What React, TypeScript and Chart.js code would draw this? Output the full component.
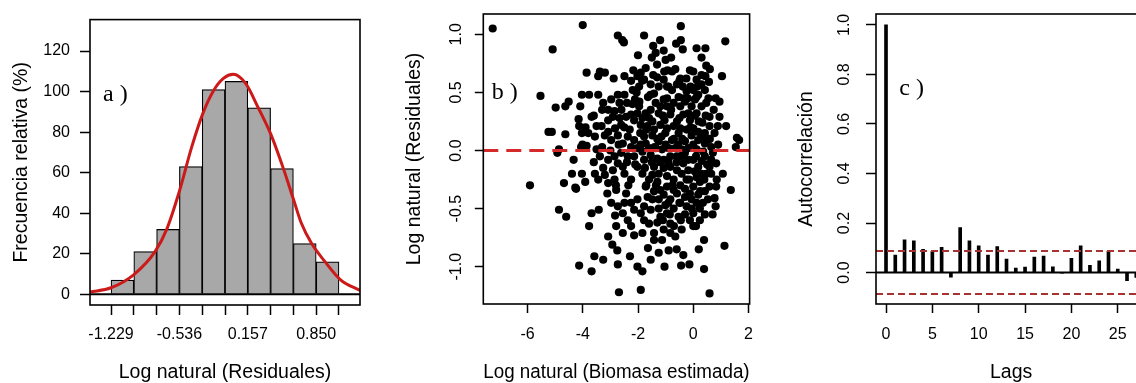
import React, { useEffect, useRef } from 'react';
import { Chart, registerables } from 'chart.js';

Chart.register(...registerables);

const FONT = '"Liberation Sans", Arial, sans-serif';
const SERIF = '"Liberation Serif", "Times New Roman", serif';

// ---------- Panel a: histogram of residuals ----------
const histBinEdges = [-1.229, -0.998, -0.767, -0.536, -0.305, -0.074, 0.157, 0.388, 0.619, 0.85, 1.081];
const histCounts = [7, 21, 32, 63, 101, 105, 92, 62, 25, 16];
const histTickLabels = ['-1.229', '-0.536', '0.157', '0.850'];
const histYTicks = [0, 20, 40, 60, 80, 100, 120];
const histYLabels = ['0', '20', '40', '60', '80', '100', '120'];
const curveX = [-1.442, -1.229, -1.0, -0.783, -0.665, -0.537, -0.411, -0.3, -0.192, -0.09, 0.01, 0.135, 0.263, 0.39, 0.517, 0.618, 0.7, 0.804, 0.939, 1.1, 1.294];
const curveY = [1.1, 3.2, 9.6, 21, 32, 50.7, 72.7, 89, 100.3, 106.5, 108.5, 104, 92, 79, 62.1, 47.1, 35, 25, 16.1, 7, 1.9];

// ---------- Panel b: residuals vs estimated biomass ----------
const scatterX = [
  -7.26, -4.0, -5.09, -5.53, -5.91, -4.98, -4.63, -4.51, -5.24, -5.12, -4.63, -4.86, -4.92, -4.33, -4.68, -4.86, -4.6, -4.24, -4.13, -3.68,
  -3.58, -3.77, -3.68, -3.42, -3.26, -3.08, -2.93, -2.75, -2.73, -2.69, -2.79, -2.83, -2.29, -2.02, -1.84, -1.9, -1.64, -1.54, -1.04, -0.89,
  -0.44, -0.14, -0.36, 0.39, 0.59, 0.39, 1.13, 1.36, 0.77, 0.81, 1.58, 1.66, 1.54, 1.16, 1.04, -0.45, -0.45, -0.62, -0.38, 0.12,
  0.44, -1.78, -2.73, -2.57, -2.51, -1.45, -1.36, -1.07, -1.0, -1.31, 0.47, -3.86, -3.38, -3.2, -3.44, -2.88, -2.49, -2.17, -1.9, -1.72,
  -2.02, -2.25, -1.78, -0.93, -0.77, -0.12, -0.47, 0.12, 0.3, 0.57, 0.44, -1.31, -4.03, -3.77, -3.44, -4.09, -3.26, -2.73, -2.49, -2.67,
  -2.4, -2.11, -1.96, -1.64, -1.42, -1.07, -0.77, -0.53, -0.24, 0.0, 0.18, 0.81, 0.95, 0.74, -4.15, -4.13, -3.68, -3.5, -3.32, -3.08,
  -2.91, -2.83, -2.61, -2.25, -2.14, -1.9, -1.72, -1.48, -1.25, -1.04, -0.83, -0.59, -0.36, -0.12, 0.12, 0.33, 0.59, 0.89, 1.19, 0.95,
  -4.03, -4.01, -3.86, -4.06, -3.5, -3.3, -3.2, -2.97, -2.73, -2.55, -2.37, -2.14, -1.92, -1.72, -1.48, -1.25, -1.01, -0.77, -0.53, -0.3,
  -0.06, 0.18, 0.42, 0.65, -4.39, -4.27, -4.03, -3.91, -3.56, -3.44, -3.26, -3.08, -2.85, -2.79, -3.11, -2.55, -2.37, -2.49, -2.25, -2.02,
  -1.84, -2.14, -1.78, -1.54, -1.42, -1.6, -1.25, -1.07, -0.83, -0.59, -0.36, -0.18, 0.0, 0.18, 0.42, 0.65, 0.59, 0.47, 0.24, 0.0,
  -0.24, -0.47, -0.71, -0.95, -1.19, -1.3, -1.07, -0.83, -0.59, -0.3, -0.06, 0.18, 0.42, -0.24, 0.0, -0.12, 0.24, 0.0, 0.42, -0.53,
  -0.71, -0.95, -0.83, -1.07, -0.83, -0.65, -0.42, -1.42, -1.42, -1.13, -1.25, -1.54, -1.78, -1.9, -2.02, -1.78, -2.14, -2.25, -2.43, -2.49,
  -2.37, -2.25, -2.14, -1.84, -2.55, -2.73, -2.97, -2.55, -1.54, -1.36, -1.19, -0.95, -0.71, -0.47, -0.3, -0.06, -0.18, 0.06, -0.71, -0.95,
  -1.19, -1.42, -1.66, -0.47, -0.24, 0.0, 0.18, 0.42, -1.78, -1.6, -1.36, -1.13, -0.89, -0.65, -0.42, -0.18, 0.12, 0.36, -1.84, -2.02,
  -2.25, -1.3, -0.83, -0.42, -0.18, 0.3, -1.07, -0.59, -0.42, 0.06, 0.3, -0.95, -1.48, -1.72, -1.42, -1.48, 0.59, 0.65, 0.53, 0.71,
  0.53, 0.77, 0.59, 0.47, 0.3, 0.42, 0.12, -0.38, -0.59, -0.95, -1.07, -1.25, -1.54, -1.96, -2.19, -2.97, -3.08, -2.85, -2.43, -2.67,
  -2.02, -1.84, -3.8, -3.56, -3.08, -3.38, -3.08, -2.85, -2.73, -2.91, -3.2, -2.61, -0.3, 0.12, -0.12, 0.12, 0.24, -0.47, -0.71, -1.01,
  -1.25, -1.19, -1.6, 0.83, 1.07, 0.83,
  -1.9, -1.7, -1.5, -1.3, -1.1, -0.9, -0.7, -0.5, -0.3, -0.1, 0.1, 0.3, 0.5, -2.3, -2.1, -1.95, -1.75, -1.55, -1.35, -1.15,
  -0.95, -0.75, -0.55, -0.35, -0.15, 0.05, 0.25, 0.45, -2.4, -2.2, -1.85, -1.65, -1.45, -1.25, -1.05, -0.85, -0.65, -0.45, -0.25, -0.05,
  0.15, 0.35, 0.55, -2.6, -2.35, -2.05, -1.6, -1.4, -1.2, -1.0, -0.8, -0.6, -0.4, -0.2, 0.0, 0.2, 0.4, -0.9, -0.5, -0.1,
  -1.7, -1.1, -0.7, -0.3, 0.1, -1.3, -0.9, -0.5, 0.3, 0.6, -2.7, -2.5, -3.0, -2.8, -3.3, -3.6, -3.9, -3.6, -2.0, -1.5,
  -0.8, 0.3, -1.2, 0.0, 0.6, 0.9, 0.85, 0.7, 0.2, -0.6,
];
const scatterY = [
  1.05, 1.08, 0.87, 0.47, -0.3, 0.37, 0.38, 0.42, 0.16, 0.16, 0.14, 0.01, -0.02, -0.08, -0.28, -0.51, -0.57, -0.33, -0.99, -1.04,
  -0.91, -0.65, -0.54, -0.51, -0.94, -0.74, -0.81, -0.86, -0.98, -1.22, -0.65, -0.56, -0.91, -1.0, -1.04, -1.2, -0.84, -0.94, -1.0, -0.86,
  -0.99, -0.98, -0.9, -1.02, -1.23, -0.77, -0.82, -0.34, -0.41, -0.48, 0.11, 0.09, 0.03, 0.94, 0.64, 1.07, 0.95, 0.92, 0.87, 0.88,
  0.88, 0.99, 0.99, 0.95, 0.93, 0.9, 0.84, 0.86, 0.78, 0.74, 0.73, 0.67, 0.68, 0.67, 0.64, 0.62, 0.64, 0.69, 0.67, 0.71,
  0.64, 0.6, 0.61, 0.69, 0.68, 0.69, 0.62, 0.61, 0.57, 0.59, 0.64, 0.63, 0.48, 0.48, 0.48, 0.38, 0.41, 0.48, 0.48, 0.41,
  0.41, 0.44, 0.38, 0.46, 0.49, 0.44, 0.52, 0.46, 0.51, 0.52, 0.48, 0.45, 0.42, 0.35, 0.27, 0.21, 0.29, 0.21, 0.21, 0.26,
  0.29, 0.19, 0.22, 0.31, 0.26, 0.22, 0.32, 0.25, 0.32, 0.26, 0.31, 0.25, 0.31, 0.26, 0.32, 0.24, 0.21, 0.21, 0.21, 0.29,
  0.15, 0.05, 0.04, 0.03, 0.01, 0.03, 0.13, 0.09, 0.13, 0.06, 0.12, 0.09, 0.15, 0.06, 0.13, 0.08, 0.15, 0.09, 0.15, 0.08,
  0.13, 0.09, 0.06, 0.03, -0.2, -0.32, -0.2, -0.27, -0.2, -0.25, -0.15, -0.28, -0.25, -0.34, -0.37, -0.14, -0.05, -0.2, -0.25, -0.14,
  -0.2, -0.05, -0.08, -0.04, -0.14, -0.25, -0.2, -0.08, -0.14, -0.05, -0.11, -0.17, -0.08, -0.14, -0.05, -0.08, -0.14, -0.2, -0.27, -0.31,
  -0.25, -0.3, -0.25, -0.31, -0.34, -0.27, -0.38, -0.42, -0.37, -0.4, -0.42, -0.38, -0.35, -0.48, -0.54, -0.6, -0.6, -0.65, -0.55, -0.57,
  -0.5, -0.54, -0.63, -0.68, -0.71, -0.74, -0.68, -0.71, -0.77, -0.77, -0.88, -0.51, -0.48, -0.54, -0.42, -0.6, -0.51, -0.45, -0.37, -0.45,
  -0.6, -0.65, -0.73, -0.71, -0.54, -0.48, -0.45, -0.71, 0.35, 0.41, 0.38, 0.38, 0.41, 0.38, 0.42, 0.38, 0.32, 0.44, 0.21, 0.19,
  0.22, 0.18, 0.21, 0.19, 0.18, 0.19, 0.16, 0.15, 0.12, 0.02, 0.02, 0.01, 0.02, 0.02, 0.01, 0.02, 0.01, -0.01, -0.01, 0.02,
  0.03, -0.07, -0.05, -0.05, -0.08, -0.09, -0.15, -0.17, -0.2, -0.18, -0.2, -0.22, -0.21, -0.31, -0.35, -0.42, -0.31, -0.2, -0.42, -0.02,
  0.09, 0.15, 0.29, 0.41, 0.38, 0.52, 0.46, 0.55, 0.57, 0.55, 0.61, 0.55, 0.57, 0.55, 0.52, 0.44, 0.35, 0.34, 0.29, 0.28,
  0.32, 0.28, 0.15, 0.12, 0.16, -0.05, -0.08, -0.05, -0.11, -0.17, -0.21, -0.02, -0.33, -0.23, -0.37, -0.45, -0.5, -0.45, -0.34, -0.47,
  -0.42, -0.57, -0.63, -0.31, -0.2, -0.11,
  0.05, 0.18, -0.1, 0.1, 0.3, -0.1, 0.1, 0.28, -0.02, 0.2, -0.05, 0.12, -0.12, 0.18, -0.12, 0.42, -0.15, 0.48, -0.3, 0.12,
  0.45, -0.3, 0.05, 0.45, -0.25, 0.3, -0.35, 0.3, -0.1, 0.4, 0.6, -0.4, 0.65, -0.5, 0.68, -0.55, 0.7, -0.6, 0.62, -0.5,
  0.55, -0.45, 0.45, 0.35, -0.3, 0.5, 0.28, 0.03, -0.1, 0.05, 0.35, -0.1, 0.1, 0.45, 0.05, 0.25, -0.25, 0.55, 0.6, 0.55,
  -0.3, -0.6, -0.65, -0.55, -0.65, -0.62, -0.45, -0.45, 0.65, 0.1, 0.05, 0.2, 0.0, -0.3, 0.35, 0.3, 0.2, -0.1, 0.82, 0.8,
  0.8, 0.8, 0.95, 0.68, 0.7, 0.05, -0.25, -0.55, -0.85, -0.85,
];
const scatterXTicks = [-6, -4, -2, 0, 2];
const scatterXLabels = ['-6', '-4', '-2', '0', '2'];
const scatterYTicks = [-1, -0.5, 0, 0.5, 1];
const scatterYLabels = ['-1.0', '-0.5', '0.0', '0.5', '1.0'];

// ---------- Panel c: autocorrelation ----------
const acfLags = [0, 1, 2, 3, 4, 5, 6, 7, 8, 9, 10, 11, 12, 13, 14, 15, 16, 17, 18, 19, 20, 21, 22, 23, 24, 25, 26, 27];
const acfValues = [1.0, 0.071, 0.132, 0.128, 0.094, 0.085, 0.102, -0.019, 0.182, 0.128, 0.108, 0.071, 0.105, 0.054, 0.018, 0.022, 0.062, 0.067, 0.023, -0.003, 0.057, 0.108, 0.029, 0.047, 0.086, 0.014, -0.033, -0.02];
const acfCI = 0.087;
const acfXTicks = [0, 5, 10, 15, 20, 25];
const acfXLabels = ['0', '5', '10', '15', '20', '25'];
const acfYTicks = [0, 0.2, 0.4, 0.6, 0.8, 1.0];
const acfYLabels = ['0.0', '0.2', '0.4', '0.6', '0.8', '1.0'];

// ---------- plugins ----------
const framePlugin = {
  id: 'frame',
  afterDatasetsDraw(chart: any) {
    const { ctx, chartArea: a } = chart;
    ctx.save();
    ctx.strokeStyle = '#000';
    ctx.lineWidth = 1.6;
    ctx.strokeRect(a.left, a.top, a.right - a.left, a.bottom - a.top);
    ctx.restore();
  },
};

const panelLabelPlugin = {
  id: 'panelLabel',
  afterDraw(chart: any, _args: any, opts: any) {
    if (!opts || !opts.text) return;
    const { ctx, chartArea: a } = chart;
    ctx.save();
    ctx.font = `24px ${SERIF}`;
    ctx.fillStyle = '#000';
    ctx.textBaseline = 'alphabetic';
    ctx.textAlign = 'left';
    ctx.fillText(opts.text, a.left + opts.dx, a.top + opts.dy);
    ctx.restore();
  },
};

const rotatedYLabelsPlugin = {
  id: 'rotY',
  afterDraw(chart: any, _args: any, opts: any) {
    if (!opts || !opts.labels) return;
    const { ctx } = chart;
    const y = chart.scales.y;
    ctx.save();
    ctx.font = `16px ${FONT}`;
    ctx.fillStyle = '#000';
    ctx.textAlign = 'center';
    ctx.textBaseline = 'middle';
    opts.values.forEach((v: number, i: number) => {
      const py = y.getPixelForValue(v);
      ctx.save();
      ctx.translate(opts.x, py);
      ctx.rotate(-Math.PI / 2);
      ctx.fillText(opts.labels[i], 0, 0);
      ctx.restore();
    });
    ctx.restore();
  },
};

function axisX(min: number, max: number, ticks: number[], labels: string[], tickLen: number, pad: number, title: string, height: number) {
  return {
    type: 'linear',
    min,
    max,
    offset: false,
    afterBuildTicks: (s: any) => { s.ticks = ticks.map((v) => ({ value: v })); },
    afterFit: (s: any) => { s.height = height; },
    border: { display: false },
    grid: { drawOnChartArea: false, drawTicks: true, tickLength: tickLen, tickWidth: 1.5, tickColor: '#000', offset: false },
    ticks: {
      autoSkip: false, maxRotation: 0, minRotation: 0, padding: pad, color: '#000',
      font: { family: FONT, size: 16 },
      callback: (_v: any, i: number) => labels[i],
    },
    title: { display: true, text: title, color: '#000', font: { family: FONT, size: 19.5, lineHeight: 1 }, padding: { top: 0, bottom: 0.25 } },
  };
}

function axisY(min: number, max: number, ticks: number[], labels: string[] | null, tickLen: number, pad: number, title: string, width: number, titlePad: number) {
  return {
    type: 'linear',
    min,
    max,
    afterBuildTicks: (s: any) => { s.ticks = ticks.map((v) => ({ value: v })); },
    afterFit: (s: any) => { s.width = width; },
    border: { display: false },
    grid: { drawOnChartArea: false, drawTicks: true, tickLength: tickLen, tickWidth: 1.5, tickColor: '#000' },
    ticks: {
      display: labels !== null, autoSkip: false, padding: pad, color: '#000',
      font: { family: FONT, size: 16 },
      callback: (_v: any, i: number) => (labels ? labels[i] : ''),
    },
    title: { display: true, text: title, color: '#000', font: { family: FONT, size: 19.5, lineHeight: 1 }, padding: { top: titlePad, bottom: 0 } },
  };
}

const basePlugins = { legend: { display: false }, tooltip: { enabled: false } };

function useChart(ref: React.RefObject<HTMLCanvasElement | null>, build: () => any) {
  useEffect(() => {
    if (!ref.current) return;
    const chart = new Chart(ref.current, build());
    return () => chart.destroy();
  }, []);
}

export default function App() {
  const refA = useRef<HTMLCanvasElement | null>(null);
  const refB = useRef<HTMLCanvasElement | null>(null);
  const refC = useRef<HTMLCanvasElement | null>(null);

  useChart(refA, () => {
    const centers = histCounts.map((_, i) => (histBinEdges[i] + histBinEdges[i + 1]) / 2);
    const xLabels = histBinEdges.map((e) => {
      const s = e.toFixed(3);
      return histTickLabels.includes(s) ? s : '';
    });
    const xMin = -1.442;
    const xMax = 1.294;
    return {
      type: 'bar',
      data: {
        datasets: [
          {
            type: 'line', order: 0,
            data: curveX.map((x, i) => ({ x, y: curveY[i] })),
            borderColor: '#cc1a1a', borderWidth: 3, pointRadius: 0,
            cubicInterpolationMode: 'monotone', fill: false,
          },
          {
            type: 'line', order: 1,
            data: [{ x: xMin, y: 0 }, { x: xMax, y: 0 }],
            borderColor: '#000', borderWidth: 2, pointRadius: 0,
          },
          {
            type: 'bar', order: 2,
            data: centers.map((x, i) => ({ x, y: histCounts[i] })),
            backgroundColor: '#a8a8a8', borderColor: '#000', borderWidth: 1.2,
            categoryPercentage: 1, barPercentage: 1,
          },
        ],
      },
      options: {
        responsive: false, animation: false,
        layout: { padding: { left: 0, top: 14, right: 15, bottom: 0 } },
        plugins: { ...basePlugins, panelLabel: { text: 'a )', dx: 13, dy: 81 } },
        scales: {
          x: axisX(xMin, xMax, histBinEdges, xLabels, 10, 10, 'Log natural (Residuales)', 78),
          y: axisY(-5.3, 135.5, histYTicks, histYLabels, 10, 10, 'Frecuencia relativa (%)', 90, 12),
        },
      },
      plugins: [framePlugin, panelLabelPlugin],
    };
  });

  useChart(refB, () => {
    const xMin = -7.6;
    const xMax = 2.04;
    return {
      type: 'scatter',
      data: {
        datasets: [
          {
            type: 'line', order: 0,
            data: [{ x: xMin, y: 0 }, { x: xMax, y: 0 }],
            borderColor: '#d42a2a', borderWidth: 3, borderDash: [15, 8], pointRadius: 0,
          },
          {
            type: 'scatter', order: 1,
            data: scatterX.map((x, i) => ({ x, y: scatterY[i] })),
            backgroundColor: '#000', borderWidth: 0, pointRadius: 4.1,
          },
        ],
      },
      options: {
        responsive: false, animation: false,
        layout: { padding: { left: 0, top: 14, right: 11.7, bottom: 0 } },
        plugins: {
          ...basePlugins,
          panelLabel: { text: 'b )', dx: 8.4, dy: 85 },
          rotY: { values: scatterYTicks, labels: scatterYLabels, x: 76.5 },
        },
        scales: {
          x: axisX(xMin, xMax, scatterXTicks, scatterXLabels, 9, 12, 'Log natural (Biomasa estimada)', 79),
          y: axisY(-1.321, 1.175, scatterYTicks, null, 8.5, 3, 'Log natural (Residuales)', 103.3, 25),
        },
      },
      plugins: [framePlugin, panelLabelPlugin, rotatedYLabelsPlugin],
    };
  });

  useChart(refC, () => {
    const xMin = -1.08;
    const xMax = 28.08;
    return {
      type: 'bar',
      data: {
        datasets: [
          {
            type: 'line', order: 0,
            data: [{ x: xMin, y: acfCI }, { x: xMax, y: acfCI }],
            borderColor: '#a83232', borderWidth: 2, borderDash: [7, 4], pointRadius: 0,
          },
          {
            type: 'line', order: 0,
            data: [{ x: xMin, y: -acfCI }, { x: xMax, y: -acfCI }],
            borderColor: '#a83232', borderWidth: 2, borderDash: [7, 4], pointRadius: 0,
          },
          {
            type: 'line', order: 1,
            data: [{ x: xMin, y: 0 }, { x: xMax, y: 0 }],
            borderColor: '#000', borderWidth: 2, pointRadius: 0,
          },
          {
            type: 'bar', order: 2,
            data: acfLags.map((x, i) => ({ x, y: acfValues[i] })),
            backgroundColor: '#000', borderWidth: 0, barThickness: 3,
          },
        ],
      },
      options: {
        responsive: false, animation: false,
        layout: { padding: { left: 0, top: 14, right: 23.7, bottom: 0 } },
        plugins: {
          ...basePlugins,
          panelLabel: { text: 'c )', dx: 23.3, dy: 81 },
          rotY: { values: acfYTicks, labels: acfYLabels, x: 75 },
        },
        scales: {
          x: axisX(xMin, xMax, acfXTicks, acfXLabels, 9, 12, 'Lags', 79),
          y: axisY(-0.127, 1.044, acfYTicks, null, 10, 3, 'Autocorrelación', 106, 27),
        },
      },
      plugins: [framePlugin, panelLabelPlugin, rotatedYLabelsPlugin],
    };
  });

  const canvasStyle = (left: number, width: number): React.CSSProperties => ({
    position: 'absolute', left, top: 0, width, height: 383, display: 'block',
  });

  return (
    <div style={{ position: 'fixed', left: 0, top: 0, width: 1136, height: 383, overflow: 'hidden', background: '#fff' }}>
      <canvas ref={refA} width={375} height={383} style={canvasStyle(0, 375)} />
      <canvas ref={refB} width={385} height={383} style={canvasStyle(380, 385)} />
      <canvas ref={refC} width={400} height={383} style={canvasStyle(770, 400)} />
    </div>
  );
}
